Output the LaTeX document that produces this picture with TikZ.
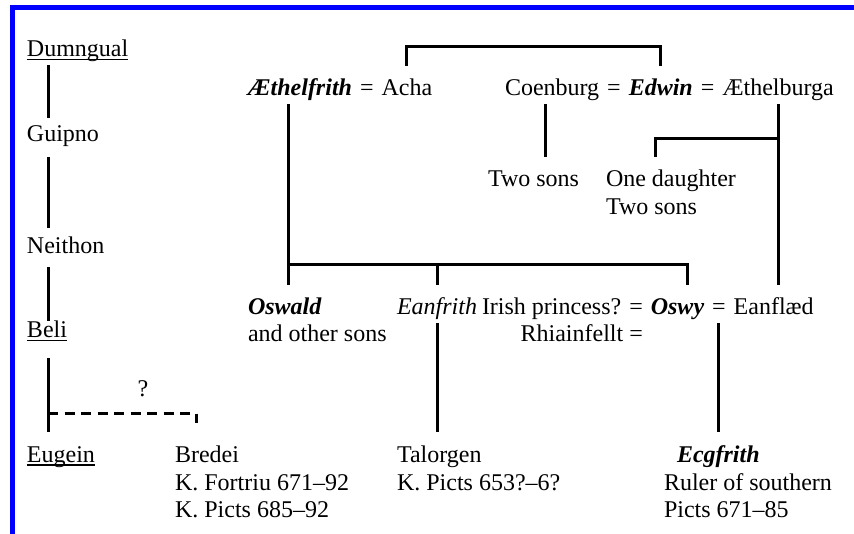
\documentclass[tikz,border=0pt]{standalone}
\usepackage{fontspec}
\setmainfont{Liberation Serif}
\usetikzlibrary{positioning}

\newlength{\ulwd}
\newcommand{\ulname}[1]{\settowidth{\ulwd}{#1}\rlap{\rule[-3.5pt]{\ulwd}{1.3pt}}#1}

\begin{document}
\begin{tikzpicture}[x=1pt, y=-1pt, node distance=8pt]

    % Define styles
    \tikzstyle{person} = [inner xsep=0pt, inner ysep=0pt, outer xsep=0pt, outer ysep=8pt, text height=22pt, text depth=0pt, anchor=base west, font=\fontsize{24}{28}\selectfont]
    \tikzstyle{king} = [person, font=\fontsize{24}{28}\selectfont\bfseries\itshape]
    \tikzstyle{prince} = [person, font=\fontsize{24}{28}\selectfont\itshape]
    \tikzstyle{link} = [line width=3pt]

    % Frame
    \useasboundingbox (0,0) rectangle (854,534);
    \fill[blue] (10,5) rectangle (854,10);
    \fill[blue] (10,5) rectangle (15,534);

    % Left line
    \node[person] (dumngual) at (27,57) {\ulname{Dumngual}};
    \node[person] (guipno) at (27,142) {Guipno};
    \node[person] (neithon) at (27,254) {Neithon};
    \node[person] (beli) at (27,338) {\ulname{Beli}};
    \node[person] (eugein) at (27,462) {\ulname{Eugein}};
    \node[person] (bredei) at (175,462) {Bredei};
    \node[person] (bredeiA) at (175,490) {K. Fortriu 671–92};
    \node[person] (bredeiB) at (175,517) {K. Picts 685–92};
    \node[person, anchor=base] (qmark) at (143,397) {?};

    % Top couples
    \node[king] (aethelfrith) at (248,96) {Æthelfrith};
    \node[person, base right=of aethelfrith] (eqA) {=};
    \node[person, base right=of eqA] (acha) {Acha};
    \node[person] (coenburg) at (505,96) {Coenburg};
    \node[person, base right=of coenburg] (eqB) {=};
    \node[king, base right=of eqB] (edwin) {Edwin};
    \node[person, base right=of edwin] (eqBB) {=};
    \node[person, base right=of eqBB] (aethelburga) {Æthelburga};

    % Edwin's children
    \node[person] (twosonsC) at (488,187) {Two sons};
    \node[person] (daughter) at (606,187) {One daughter};
    \node[person] (twosonsE) at (606,215) {Two sons};

    % Middle row
    \node[king] (oswald) at (248,315) {Oswald};
    \node[person] (oswaldB) at (248,342) {and other sons};
    \node[prince] (eanfrith) at (397,315) {Eanfrith};
    \node[person] (irish) at (482,315) {Irish princess?};
    \node[person, base right=of irish] (eqC) {=};
    \node[king, base right=of eqC] (oswy) {Oswy};
    \node[person, base right=of oswy] (eqD) {=};
    \node[person, base right=of eqD] (eanflaed) {Eanflæd};
    \node[person, anchor=base east] (rhiainfellt) at (eqC.base east |- 0,342) {Rhiainfellt =};

    % Bottom row
    \node[person] (talorgen) at (397,462) {Talorgen};
    \node[person] (talorgenB) at (397,490) {K. Picts 653?–6?};
    \node[king] (ecgfrith) at (677,462) {Ecgfrith};
    \node[person] (ecgfrithA) at (664,490) {Ruler of southern};
    \node[person] (ecgfrithB) at (664,517) {Picts 671–85};

    % Bars
    \coordinate (topbar) at (0,47);
    \coordinate (edwinfork) at (0,139);
    \coordinate (sonsbar) at (0,265);
    \coordinate (qfork) at (48,413);

    % Left line links
    \draw[link, shorten >=-6pt] ([xshift=21pt]dumngual.south west) -- ([xshift=21pt]guipno.north west);
    \draw[link, shorten <=7pt, shorten >=-4pt] ([xshift=21pt]guipno.south west) -- ([xshift=21pt]neithon.north west);
    \draw[link, shorten <=5pt, shorten >=-13pt] ([xshift=21pt]neithon.south west) -- ([xshift=21pt]beli.north west);
    \draw[link, shorten <=12pt] ([xshift=21pt]beli.south west) -- ([xshift=21pt]eugein.north west);
    \draw[link, dash pattern=on 10pt off 6.5pt, shorten >=9pt] (qfork) -| ([xshift=21pt]bredei.north west);

    % Northumbrian links
    \draw[link] (acha.north) |- (topbar -| edwin.north) -- (edwin.north);
    \draw[link] ([xshift=-7pt]coenburg.south) -- ([xshift=-7pt]coenburg.south |- twosonsC.north);
    \draw[link] (aethelburga.south) -- (aethelburga.south |- eanflaed.north);
    \draw[link] (aethelburga.south |- edwinfork) -| ([xshift=49pt]daughter.north west);
    \draw[link] ([xshift=40pt]aethelfrith.south west) -- ([xshift=40pt]oswald.north west);
    \draw[link] ([xshift=40pt]oswald.north west |- sonsbar) -| ([xshift=10pt]oswy.north);
    \draw[link] (eanfrith.north |- sonsbar) -- (eanfrith.north);
    \draw[link] (eanfrith.south) -- (eanfrith.south |- talorgen.north);
    \draw[link] (eqD.south) -- (eqD.south |- ecgfrith.north);

\end{tikzpicture}
\end{document}
